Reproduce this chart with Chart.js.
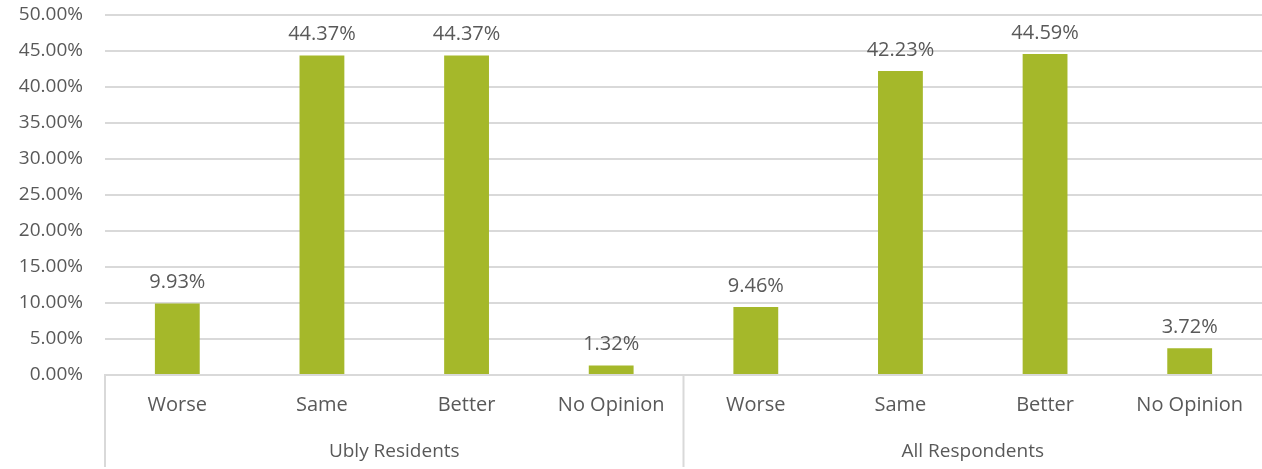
<!DOCTYPE html>
<html>
<head>
<meta charset="utf-8">
<script src="https://cdn.jsdelivr.net/npm/chart.js@4"></script>
<style>
  html, body { margin: 0; padding: 0; background: #fff; }
  #wrap { width: 1262px; height: 469px; position: relative; }
</style>
</head>
<body>
<div id="wrap"><canvas id="chart"></canvas></div>
<script>
const categories = ['Worse', 'Same', 'Better', 'No Opinion', 'Worse', 'Same', 'Better', 'No Opinion'];
const groups = ['Ubly Residents', 'All Respondents'];
const groupSize = 4;
const values = [9.93, 44.37, 44.37, 1.32, 9.46, 42.23, 44.59, 3.72];
const yTicks = [0, 5, 10, 15, 20, 25, 30, 35, 40, 45, 50];

const textColor = '#595959';
const gridColor = '#d9d9d9';
const font = '"Open Sans", Lato, sans-serif';

// value labels above each bar
const valueLabels = {
    id: 'valueLabels',
    afterDatasetsDraw(chart) {
        const ctx = chart.ctx;
        const meta = chart.getDatasetMeta(0);
        ctx.save();
        ctx.fillStyle = textColor;
        ctx.font = '20px ' + font;
        ctx.textAlign = 'center';
        ctx.textBaseline = 'bottom';
        meta.data.forEach((bar, i) => {
            ctx.fillText(values[i].toFixed(2) + '%', bar.x, bar.y - 11);
        });
        ctx.restore();
    }
};

// group labels and separators under the category axis
const groupAxis = {
    id: 'groupAxis',
    afterDraw(chart) {
        const ctx = chart.ctx;
        const x = chart.scales.x;
        const area = chart.chartArea;
        const step = x.getPixelForValue(1) - x.getPixelForValue(0);
        const bottom = chart.height - 2;
        ctx.save();
        ctx.strokeStyle = gridColor;
        ctx.lineWidth = 2;
        for (let g = 0; g < groups.length; g++) {
            const px = x.getPixelForValue(g * groupSize) - step / 2;
            ctx.beginPath();
            ctx.moveTo(px, area.bottom);
            ctx.lineTo(px, bottom);
            ctx.stroke();
        }
        ctx.fillStyle = textColor;
        ctx.font = '19px ' + font;
        ctx.textAlign = 'center';
        ctx.textBaseline = 'middle';
        groups.forEach((name, g) => {
            const a = x.getPixelForValue(g * groupSize);
            const b = x.getPixelForValue(g * groupSize + groupSize - 1);
            ctx.fillText(name, (a + b) / 2, 452);
        });
        ctx.restore();
    }
};

new Chart(document.getElementById('chart'), {
    type: 'bar',
    data: {
        labels: categories,
        datasets: [{
            data: values,
            backgroundColor: '#a5b82a',
            barPercentage: 0.31,
            categoryPercentage: 1
        }]
    },
    options: {
        responsive: true,
        maintainAspectRatio: false,
        animation: false,
        layout: { padding: { top: 15, left: 0, right: 0, bottom: 0 } },
        plugins: {
            legend: { display: false },
            tooltip: { enabled: false }
        },
        scales: {
            y: {
                min: 0,
                max: 50,
                afterBuildTicks(scale) {
                    scale.ticks = yTicks.map(v => ({ value: v }));
                },
                afterFit(scale) {
                    scale.width = 105;
                    scale.paddingTop = 0;
                    scale.paddingBottom = 0;
                },
                ticks: {
                    color: textColor,
                    font: { family: font, size: 19 },
                    padding: 22,
                    callback: v => v.toFixed(2) + '%'
                },
                grid: { color: gridColor, lineWidth: 2, drawTicks: false },
                border: { display: false }
            },
            x: {
                afterFit(scale) { scale.height = 94; },
                ticks: {
                    color: textColor,
                    font: { family: font, size: 20 },
                    padding: 18,
                    maxRotation: 0
                },
                grid: { display: false, drawTicks: false },
                border: { display: true, color: gridColor, width: 2 }
            }
        }
    },
    plugins: [valueLabels, groupAxis]
});
</script>
</body>
</html>
